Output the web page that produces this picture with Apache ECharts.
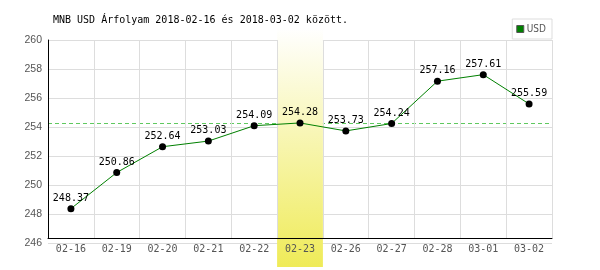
<!DOCTYPE html>
<html>
<head>
<meta charset="utf-8">
<script src="https://cdn.jsdelivr.net/npm/echarts@6/dist/echarts.min.js"></script>
<style>
html,body{margin:0;padding:0;background:#fff;}
#c{width:600px;height:270px;}
</style>
</head>
<body>
<div id="c"></div>
<script>
const titleText = 'MNB USD Árfolyam 2018-02-16 és 2018-03-02 között.';
const seriesName = 'USD';
const categories = ['02-16','02-19','02-20','02-21','02-22','02-23','02-26','02-27','02-28','03-01','03-02'];
const usdValues = [248.37, 250.86, 252.64, 253.03, 254.09, 254.28, 253.73, 254.24, 257.16, 257.61, 255.59];
const referenceLevel = 254.28;
const highlightCategory = '02-23';
const yMin = 246, yMax = 260, yStep = 2;

const MONO = "'DejaVu Sans Mono', 'Liberation Mono', monospace";
const REF_COLOR = '#5fc95f';
const chart = echarts.init(document.getElementById('c'), null, {renderer: 'canvas'});

const option = {
  animation: false,
  backgroundColor: '#fff',
  title: {
    text: titleText,
    left: 53, top: 15, padding: 0,
    textStyle: {fontFamily: MONO, fontSize: 10, fontWeight: 'normal', color: '#000'}
  },
  legend: {
    right: 48, top: 19,
    padding: [5, 6, 5, 4],
    borderColor: '#ddd', borderWidth: 1,
    itemWidth: 7, itemHeight: 7, itemGap: 5,
    icon: 'rect',
    textStyle: {fontFamily: "'DejaVu Sans Condensed', 'Liberation Sans Narrow', sans-serif", fontSize: 10, color: '#555', padding: [0, 0, 0, -2]},
    data: [{name: seriesName, itemStyle: {color: '#008000', borderColor: '#555', borderWidth: 1}}]
  },
  grid: [
    {left: 48, right: 48, top: 40, bottom: 27},
    {left: 48, right: 48, top: 40, bottom: 32}
  ],
  xAxis: [
    {
      gridIndex: 0, type: 'category', data: categories, boundaryGap: true,
      axisLine: {show: false}, axisTick: {show: false}, axisLabel: {show: false},
      splitLine: {show: false}
    },
    {
      gridIndex: 1, type: 'category', data: categories, boundaryGap: true, z: 3,
      axisLine: {show: true, lineStyle: {color: '#000', width: 1}},
      axisTick: {show: false},
      axisLabel: {show: true, margin: 6, fontFamily: MONO, fontSize: 10, color: '#555', interval: 0},
      splitLine: {show: true, interval: 0, lineStyle: {color: '#ddd', width: 1}}
    }
  ],
  yAxis: [
    {
      gridIndex: 0, type: 'value', min: yMin, max: yMax, interval: yStep,
      axisLine: {show: false}, axisTick: {show: false},
      axisLabel: {show: true, margin: 6, fontFamily: "'Liberation Sans', Arial, sans-serif", fontSize: 10.5, color: '#555'},
      splitLine: {show: true, lineStyle: {color: '#ddd', width: 1}}
    },
    {
      gridIndex: 1, type: 'value', min: 0, max: 1, z: 3,
      axisLine: {show: true, lineStyle: {color: '#000', width: 1}},
      axisTick: {show: false}, axisLabel: {show: false}, splitLine: {show: false}
    }
  ],
  series: [
    {
      name: seriesName, type: 'line', xAxisIndex: 0, yAxisIndex: 0, z: 5,
      data: usdValues,
      symbol: 'circle', symbolSize: 7,
      itemStyle: {color: '#000'},
      lineStyle: {color: '#008000', width: 1},
      label: {show: true, position: 'top', distance: 2, fontFamily: MONO, fontSize: 10, color: '#000'}
    }
  ]
};
chart.setOption(option);

const px = (c) => chart.convertToPixel({xAxisIndex: 0}, c);
const bw = px(categories[1]) - px(categories[0]);
const cx = px(highlightCategory);
const xLeft = px(categories[0]) - bw / 2;
const xRight = px(categories[categories.length - 1]) + bw / 2;
const yRef = Math.round(chart.convertToPixel({yAxisIndex: 0}, referenceLevel)) + 0.5;

chart.setOption({
  graphic: [
    {
      type: 'line', z: 0, silent: true,
      shape: {x1: xLeft, y1: yRef, x2: xRight, y2: yRef},
      style: {stroke: REF_COLOR, lineWidth: 1, lineDash: [4, 3]}
    },
    {
      type: 'rect', z: 1, silent: true,
      shape: {x: cx - bw / 2, y: 28, width: bw, height: 239},
      style: {
        fill: new echarts.graphic.LinearGradient(0, 0, 0, 1, [
          {offset: 0, color: '#ffffff'},
          {offset: 1, color: '#efeb58'}
        ])
      }
    }
  ]
});
</script>
</body>
</html>
